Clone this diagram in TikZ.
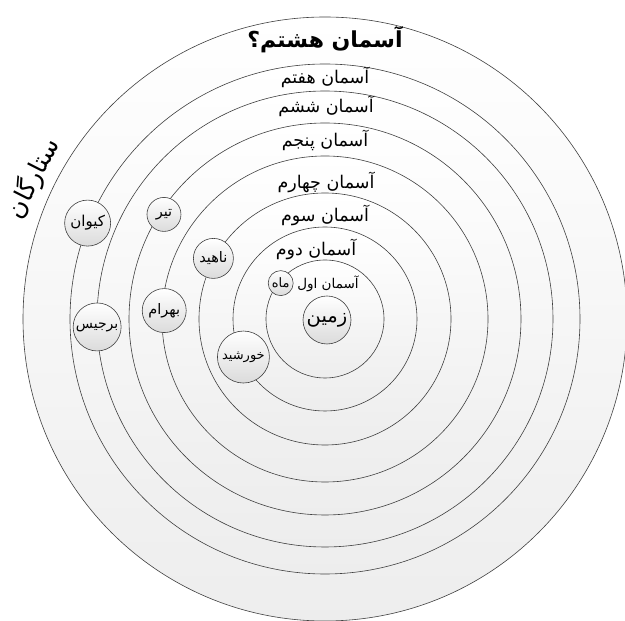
\documentclass[tikz,border=0pt]{standalone}
\usepackage{fontspec}
\TeXXeTstate=1
\newfontfamily\fa[Script=Arabic]{DejaVu Sans}
\begin{document}
\begin{tikzpicture}[x=1pt,y=1pt,
  orbit/.style={draw=black!75, line width=0.6pt, top color=white, bottom color=black!7},
  planet/.style={circle, draw=black!75, line width=0.6pt, top color=white, bottom color=black!14, inner sep=0pt},
  pfont/.style={font=\fa\fontsize{14.5}{14.5}\selectfont},
  lbl/.style={font=\fa\fontsize{17.5}{17.5}\selectfont, inner sep=0pt}]
\useasboundingbox (0,0) rectangle (625,621);
\fill[white] (0,0) rectangle (625,621);
\coordinate (O) at (325,302);
\foreach \r in {302,255,228,196,163,126,92,59} \draw[orbit] (O) circle (\r);
% heavens labels
\node[lbl, font=\fa\bfseries\fontsize{22}{22}\selectfont] (h8) at (325,581) {\beginR آسمان هشتم؟\endR};
\node[lbl] (h7) at (325,544) {\beginR آسمان هفتم\endR};
\node[lbl] (h6) at (326,515) {\beginR آسمان ششم\endR};
\node[lbl] (h5) at (325,481) {\beginR آسمان پنجم\endR};
\node[lbl] (h4) at (326,439) {\beginR آسمان چهارم\endR};
\node[lbl] (h3) at (325,406) {\beginR آسمان سوم\endR};
\node[lbl] (h2) at (316,372) {\beginR آسمان دوم\endR};
\node[lbl, font=\fa\fontsize{13.5}{13.5}\selectfont] (h1) at (328,337) {\beginR آسمان اول\endR};
% planets
\node[planet, minimum size=48pt, font=\fa\fontsize{19.5}{19.5}\selectfont] (zamin) at (327,301) {\beginR زمین\endR};
\node[planet, minimum size=25pt, font=\fa\fontsize{13}{13}\selectfont] (mah) at ([shift={(141:57)}]O) {\beginR ماه\endR};
\node[planet, minimum size=52pt, font=\fa\fontsize{13}{13}\selectfont] (khorshid) at ([shift={(205:90)}]O) {\beginR خورشید\endR};
\node[planet, minimum size=40pt, pfont] (nahid) at ([shift={(151.5:127)}]O) {\beginR ناهید\endR};
\node[planet, minimum size=44pt, pfont] (bahram) at ([shift={(177:161)}]O) {\beginR بهرام\endR};
\node[planet, minimum size=34pt, pfont] (tir) at ([shift={(147:192)}]O) {\beginR تیر\endR};
\node[planet, minimum size=48pt, font=\fa\fontsize{14}{14}\selectfont] (barjis) at ([shift={(182:228)}]O) {\beginR برجیس\endR};
\node[planet, minimum size=46pt, font=\fa\fontsize{15}{15}\selectfont] (keyvan) at ([shift={(158:256)}]O) {\beginR کیوان\endR};
% stars
\node[font=\fa\fontsize{25}{25}\selectfont, rotate=63, inner sep=0pt] (setaregan) at (33,443) {\beginR ستارگان\endR};
\end{tikzpicture}
\end{document}
